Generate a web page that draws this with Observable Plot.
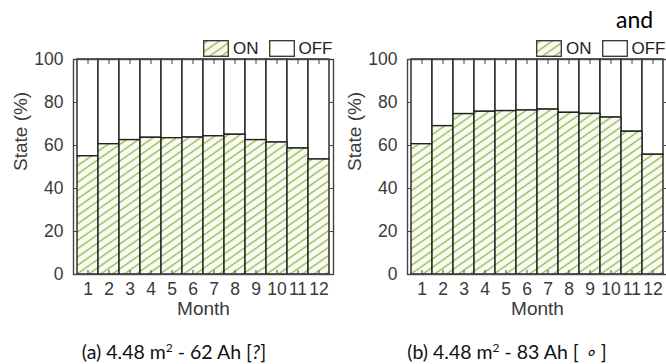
<!DOCTYPE html>
<html>
<head>
<meta charset="utf-8">
<script src="https://cdn.jsdelivr.net/npm/d3@7"></script>
<script src="https://cdn.jsdelivr.net/npm/@observablehq/plot@0.6"></script>
<style>
  html, body { margin: 0; padding: 0; background: #fff; }
  body { width: 666px; height: 364px; overflow: hidden; position: relative; font-family: "Liberation Sans", Arial, sans-serif; }
  .panel { position: absolute; top: 0; }
  .legend { position: absolute; top: 40px; display: flex; align-items: center; font-size: 17px; color: #222; line-height: 16px; }
  .legend svg { display: block; }
  .legend span { margin: 0 10px 0 4px; }
  .caption { position: absolute; font-family: Lato, "Open Sans", sans-serif; font-size: 19.5px; color: #111; white-space: nowrap; transform: translateX(-50%); top: 340px; }
  .caption sup { font-size: 12px; vertical-align: 7px; line-height: 0; }
  .and { position: absolute; left: 616px; top: 5px; font-family: Lato, "Open Sans", sans-serif; font-size: 23px; color: #000; }
</style>
</head>
<body>
<script>
// ---- data ----
const months = [1, 2, 3, 4, 5, 6, 7, 8, 9, 10, 11, 12];
const onA = [55, 60.6, 62.5, 63.6, 63.4, 63.7, 64.3, 65, 62.5, 61.4, 58.6, 53.5];
const onB = [60.6, 69, 74.6, 75.7, 76, 76.3, 76.7, 75.2, 74.7, 73, 66.4, 55.7];
const yTicks = [0, 20, 40, 60, 80, 100];
const seriesNames = ["ON", "OFF"];
const xLabel = "Month";
const yLabel = "State (%)";
const captionA = ["(a) 4.48 m", "2", " - 62 Ah [", "?", "]"];
const captionB = ["(b) 4.48 m", "2", " - 83 Ah [ ", "\u2218", " ]"];

const HATCH_BG = "#f8fbf2";
const HATCH_LINE = "#92b444";

function hatchDefs(svg, id) {
  const defs = d3.select(svg).insert("defs", ":first-child");
  const p = defs.append("pattern")
    .attr("id", id)
    .attr("patternUnits", "userSpaceOnUse")
    .attr("width", 6.8).attr("height", 6.8)
    .attr("patternTransform", "rotate(-35)");
  p.append("rect").attr("width", 6.8).attr("height", 6.8).attr("fill", HATCH_BG);
  p.append("line").attr("x1", 0).attr("x2", 6.8).attr("y1", 3.4).attr("y2", 3.4)
    .attr("stroke", HATCH_LINE).attr("stroke-width", 1.3);
}

function makeChart(values, id) {
  const data = months.map((m, i) => ({month: m, on: values[i]}));
  const svg = Plot.plot({
    width: 345, height: 330,
    marginLeft: 73, marginRight: 12, marginTop: 59, marginBottom: 56,
    style: {fontFamily: "'Liberation Sans', Arial, sans-serif", fontSize: "17.5px", color: "#333", background: "transparent", overflow: "visible"},
    x: {type: "band", domain: months, padding: 0, label: null},
    y: {domain: [0, 100], label: null},
    marks: [
      Plot.barY(data, {x: "month", y1: "on", y2: () => 100, fill: "white", stroke: "#222", strokeWidth: 1.4, inset: 0}),
      Plot.barY(data, {x: "month", y1: () => 0, y2: "on", fill: `url(#${id})`, stroke: "#222", strokeWidth: 1.4, inset: 0}),
      Plot.frame({stroke: "#444", strokeWidth: 1.4}),
      Plot.axisY(yTicks, {tickSize: 0, tickPadding: 10, label: null, fill: "#3a3a3a"}),
      Plot.axisY(yTicks, {tickSize: 4, dx: 4, tickFormat: () => "", label: null, stroke: "#444"}),
      Plot.axisY(yTicks, {anchor: "right", tickSize: 4, dx: -4, tickFormat: () => "", label: null, stroke: "#444"}),
      Plot.axisX({tickSize: 0, tickPadding: 8, label: null, fill: "#3a3a3a"}),
      Plot.axisX({tickSize: 4, dy: -4, tickFormat: () => "", label: null, stroke: "#444"}),
      Plot.axisX({anchor: "top", tickSize: 4, dy: 4, tickFormat: () => "", label: null, stroke: "#444"}),
      Plot.text([xLabel], {frameAnchor: "bottom", dy: 40, text: d => d, fontSize: 19, fill: "#3a3a3a"}),
      Plot.text([yLabel], {frameAnchor: "left", rotate: -90, dx: -53, dy: 4, text: d => d, fontSize: 19, fill: "#3a3a3a"})
    ]
  });
  hatchDefs(svg, id);
  return svg;
}

function legend(left, id) {
  const div = document.createElement("div");
  div.className = "legend";
  div.style.left = left + "px";
  seriesNames.forEach((name, i) => {
    const s = d3.create("svg").attr("width", 26).attr("height", 17);
    s.append("rect").attr("x", 0.7).attr("y", 0.7).attr("width", 24.6).attr("height", 15.6)
      .attr("fill", i === 0 ? `url(#${id})` : "white").attr("stroke", "#333").attr("stroke-width", 1.3);
    div.appendChild(s.node());
    const t = document.createElement("span");
    t.textContent = name;
    div.appendChild(t);
  });
  document.body.appendChild(div);
}

function caption(parts, cx) {
  const div = document.createElement("div");
  div.className = "caption";
  div.style.left = cx + "px";
  div.appendChild(document.createTextNode(parts[0]));
  const sup = document.createElement("sup"); sup.textContent = parts[1]; div.appendChild(sup);
  div.appendChild(document.createTextNode(parts[2]));
  const em = document.createElement("i"); em.textContent = parts[3]; div.appendChild(em);
  div.appendChild(document.createTextNode(parts[4]));
  document.body.appendChild(div);
}

const a = makeChart(onA, "hatchA");
a.classList.add("panel"); a.style.left = "0px";
document.body.appendChild(a);
const b = makeChart(onB, "hatchB");
b.classList.add("panel"); b.style.left = "334px";
document.body.appendChild(b);

legend(203, "hatchA");
legend(536, "hatchB");
caption(captionA, 174);
caption(captionB, 507);

const andDiv = document.createElement("div");
andDiv.className = "and";
andDiv.textContent = "and";
document.body.appendChild(andDiv);
</script>
</body>
</html>
